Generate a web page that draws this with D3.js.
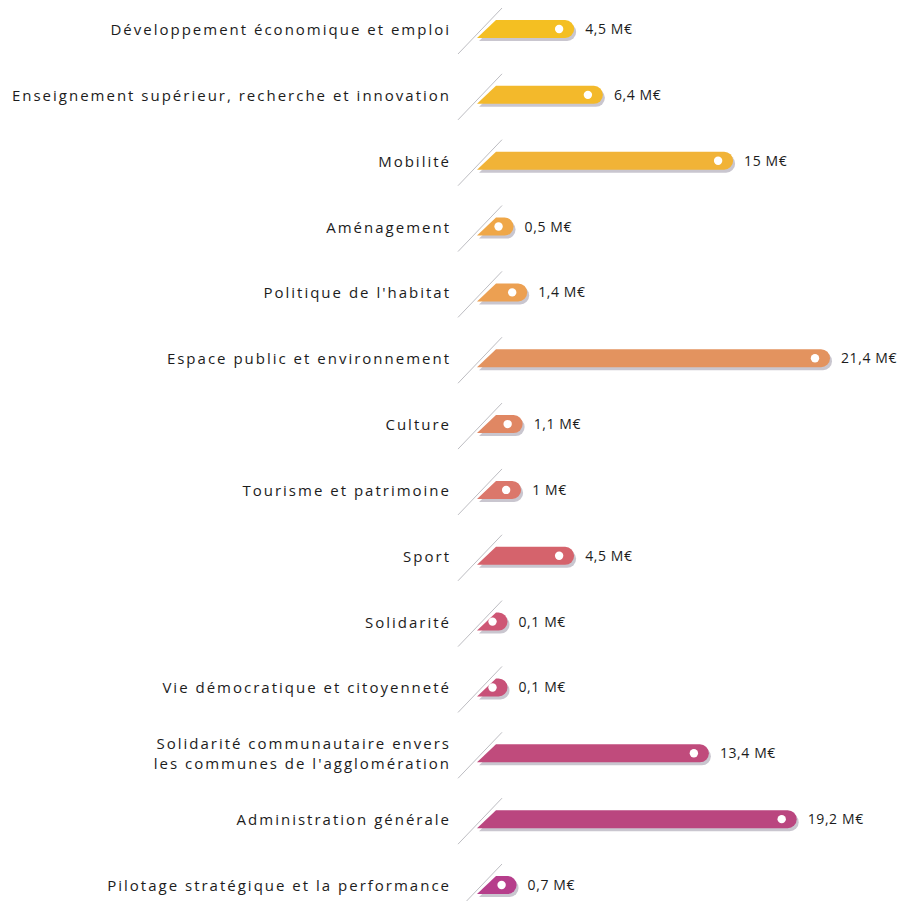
<!DOCTYPE html>
<html>
<head>
<meta charset="utf-8">
<script src="https://cdn.jsdelivr.net/npm/d3@7"></script>
<style>
  html, body { margin: 0; padding: 0; background: #fff; }
  svg { display: block; }
  .cat, .val { font-family: "Open Sans", sans-serif; fill: #1c1c1c; }
  .cat { font-size: 15px; letter-spacing: 2px; }
  .val { font-size: 14px; letter-spacing: 0.6px; }
</style>
</head>
<body>
<svg id="chart" width="913" height="901"></svg>
<script>
// Budget by policy area, in millions of euros
const categories = [
  ["Développement économique et emploi"],
  ["Enseignement supérieur, recherche et innovation"],
  ["Mobilité"],
  ["Aménagement"],
  ["Politique de l'habitat"],
  ["Espace public et environnement"],
  ["Culture"],
  ["Tourisme et patrimoine"],
  ["Sport"],
  ["Solidarité"],
  ["Vie démocratique et citoyenneté"],
  ["Solidarité communautaire envers", "les communes de l'agglomération"],
  ["Administration générale"],
  ["Pilotage stratégique et la performance"]
];
const values = [4.5, 6.4, 15, 0.5, 1.4, 21.4, 1.1, 1, 4.5, 0.1, 0.1, 13.4, 19.2, 0.7];
const valueLabels = ["4,5 M€", "6,4 M€", "15 M€", "0,5 M€", "1,4 M€", "21,4 M€", "1,1 M€",
                     "1 M€", "4,5 M€", "0,1 M€", "0,1 M€", "13,4 M€", "19,2 M€", "0,7 M€"];

// Warm ramp from gold through orange to magenta, one colour per row
const barColors = ["#F4BF22", "#F3B92B", "#F1B337", "#EFA748", "#ECA052", "#E3935F", "#E08763",
                   "#DB776B", "#D5636C", "#CE5674", "#C85178", "#C04B7C", "#BA467F", "#B63E8B"];

const svg = d3.select("#chart");
const idx = d3.range(values.length);

const y = d3.scalePoint().domain(idx).range([30, 886]);
const x = d3.scaleLinear().domain([0, 21.4]).range([506, 830]);

const half = 9;          // cap radius / half bar height
const slantTop = 496;    // top-left corner of the bar
const slantBottom = 477; // bottom-left corner of the bar

function barPath(v, cy) {
  const end = x(v);
  const cx = Math.max(end - half, slantTop + 1);
  const top = cy - half - 1, bot = cy + half - 1;
  return `M${slantBottom},${bot} L${slantTop},${top} L${cx},${top} ` +
         `A${half},${half} 0 0 1 ${cx},${bot} Z`;
}

const rows = svg.selectAll("g.row").data(idx).join("g").attr("class", "row");

// Light diagonal stroke behind each bar
rows.append("line")
  .attr("x1", 458).attr("y1", i => y(i) + 24)
  .attr("x2", 502).attr("y2", i => y(i) - 22)
  .attr("stroke", "#bdbdc2").attr("stroke-width", 1);

// Soft grey drop shadow
rows.append("path")
  .attr("d", i => barPath(values[i], y(i)))
  .attr("transform", "translate(2,3)")
  .attr("fill", "#c9c6cf");

// Bar
rows.append("path")
  .attr("d", i => barPath(values[i], y(i)))
  .attr("fill", i => barColors[i]);

// White marker near the rounded end
rows.append("circle")
  .attr("cx", i => x(values[i]) - 15)
  .attr("cy", i => y(i) - 1)
  .attr("r", 4.2)
  .attr("fill", "#fff");

// Value label
rows.append("text")
  .attr("class", "val")
  .attr("x", i => x(values[i]) + 11)
  .attr("y", i => y(i) + 4)
  .text(i => valueLabels[i]);

// Category label, right-aligned before the bar
rows.append("text")
  .attr("class", "cat")
  .attr("text-anchor", "end")
  .attr("x", 451)
  .attr("y", i => y(i) + 5 - (categories[i].length - 1) * 10)
  .selectAll("tspan")
  .data(i => categories[i])
  .join("tspan")
  .attr("x", 451)
  .attr("dy", (d, j) => j === 0 ? 0 : 20)
  .text(d => d);
</script>
</body>
</html>
